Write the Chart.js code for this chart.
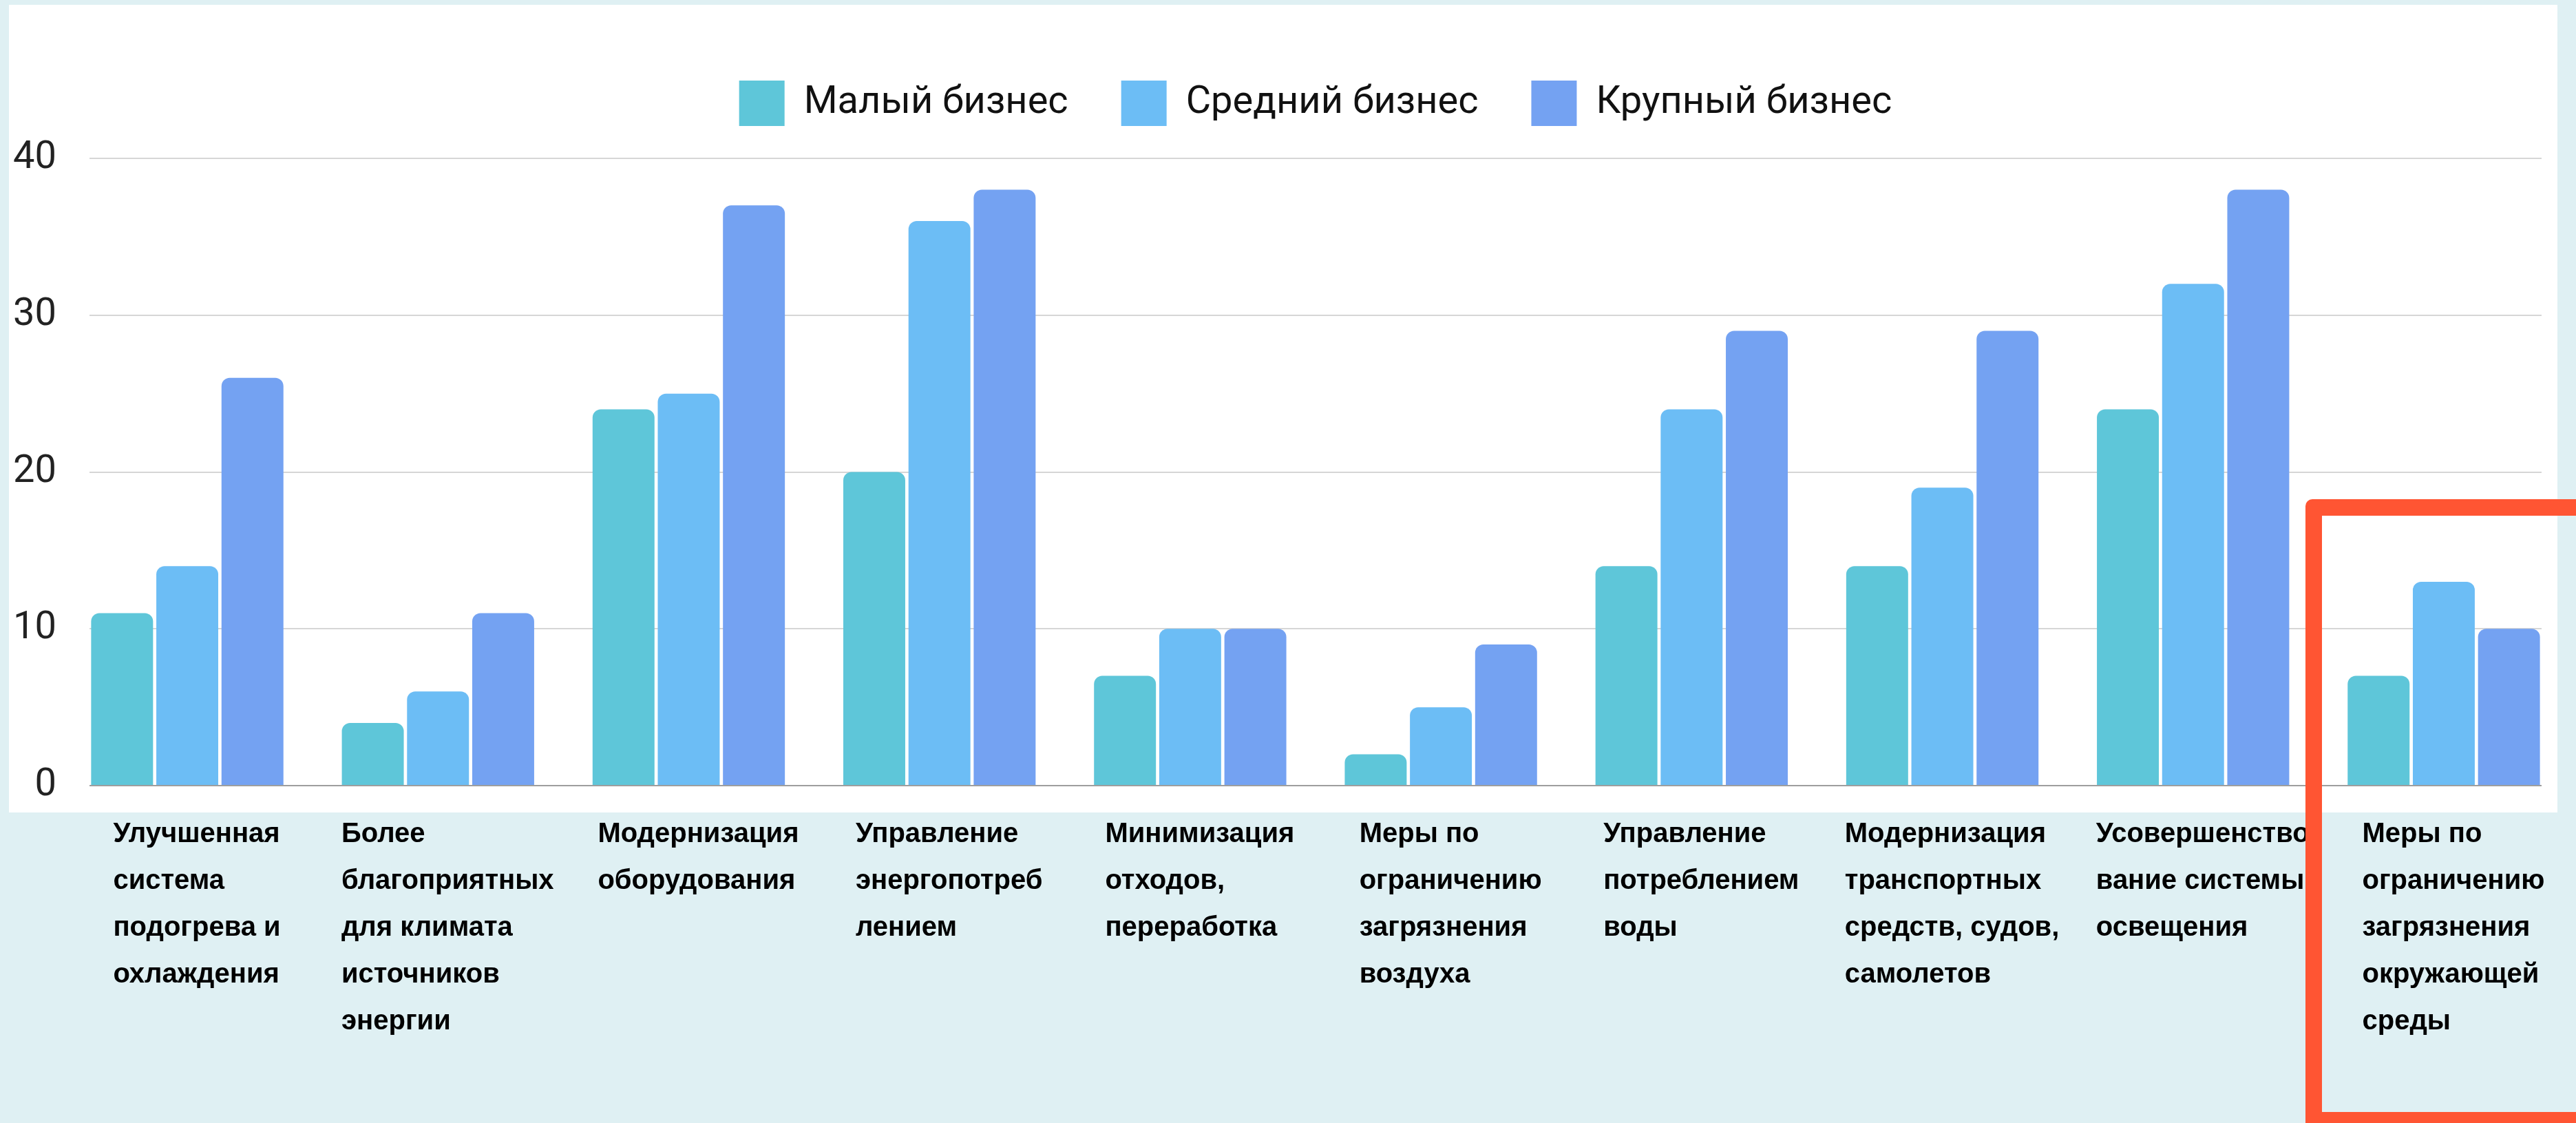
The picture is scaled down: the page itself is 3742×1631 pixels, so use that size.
<!DOCTYPE html>
<html>
<head>
<meta charset="utf-8">
<script src="https://cdn.jsdelivr.net/npm/chart.js@4.4.1/dist/chart.umd.min.js"></script>
<style>
    html, body { margin: 0; padding: 0; }
    body {
        width: 3742px; height: 1631px; overflow: hidden;
        background: #dff0f3; position: relative;
    }
    #panel { position: absolute; left: 13px; top: 7px; width: 3702px; height: 1173px; background: #fff; }
    #myChart { position: absolute; left: 0; top: 0; }
    #mark {
        position: absolute; left: 3349px; top: 725px; width: 500px; height: 866px;
        border: 24px solid #ff5533; border-top-left-radius: 10px;
    }
</style>
</head>
<body>
<div id="panel"></div>
<canvas id="myChart" width="3742" height="1631"></canvas>
<div id="mark"></div>
<script>
// categories, wrapped the same way as in the picture
const categories = [
    ['Улучшенная', 'система', 'подогрева и', 'охлаждения'],
    ['Более', 'благоприятных', 'для климата', 'источников', 'энергии'],
    ['Модернизация', 'оборудования'],
    ['Управление', 'энергопотреб', 'лением'],
    ['Минимизация', 'отходов,', 'переработка'],
    ['Меры по', 'ограничению', 'загрязнения', 'воздуха'],
    ['Управление', 'потреблением', 'воды'],
    ['Модернизация', 'транспортных', 'средств, судов,', 'самолетов'],
    ['Усовершенство', 'вание системы', 'освещения'],
    ['Меры по', 'ограничению', 'загрязнения', 'окружающей', 'среды'],
];
const seriesNames = ['Малый бизнес', 'Средний бизнес', 'Крупный бизнес'];
const small = [11, 4, 24, 20, 7, 2, 14, 14, 24, 7];
const medium = [14, 6, 25, 36, 10, 5, 24, 19, 32, 13];
const large = [26, 11, 37, 38, 10, 9, 29, 29, 38, 10];
const yTicks = [0, 10, 20, 30, 40];

const colors = ['#5ec6d9', '#6cbdf5', '#74a2f2'];
const groupShare = 0.78;

// leave some room between the legend and the top gridline
const legendRoom = {
    id: 'legendRoom',
    beforeInit(chart) {
        const fit = chart.legend.fit;
        chart.legend.fit = function() {
            fit.bind(chart.legend)();
            this.height = 190;
        };
    }
};

// multi-line category labels under the plot, block centred on each group
const categoryLabels = {
    id: 'categoryLabels',
    afterDraw(chart) {
        const ctx = chart.ctx;
        const xs = chart.scales.x;
        const top = chart.chartArea.bottom + 71;
        ctx.save();
        ctx.font = 'bold 40px "Liberation Sans", Arial, sans-serif';
        ctx.fillStyle = '#000';
        ctx.textAlign = 'left';
        ctx.textBaseline = 'middle';
        categories.forEach((lines, i) => {
            const w = Math.max(...lines.map(l => ctx.measureText(l).width));
            const left = xs.getPixelForValue(i) + 14 - w / 2;
            lines.forEach((line, j) => ctx.fillText(line, left, top + j * 68));
        });
        ctx.restore();
    }
};

new Chart('myChart', {
    type: 'bar',
    data: {
        labels: categories.map((c, i) => i),
        datasets: [small, medium, large].map((values, k) => ({
            label: seriesNames[k],
            data: values,
            backgroundColor: colors[k],
            borderWidth: 0,
            borderRadius: 12,
            categoryPercentage: groupShare,
            barPercentage: 0.95,
        })),
    },
    options: {
        responsive: false,
        animation: false,
        devicePixelRatio: 1,
        layout: { padding: { top: 40, left: 15, right: 50, bottom: 490 } },
        plugins: {
            legend: {
                position: 'top',
                fullSize: false,
                labels: {
                    boxWidth: 66,
                    boxHeight: 66,
                    padding: 77,
                    color: '#111',
                    font: { family: 'Roboto', size: 56 },
                },
            },
            tooltip: { enabled: false },
        },
        scales: {
            x: {
                type: 'linear',
                display: false,
                offset: false,
                min: -groupShare / 2,
                max: categories.length - 1 + groupShare / 2,
                afterBuildTicks: (scale) => { scale.ticks = categories.map((c, i) => ({ value: i })); },
            },
            y: {
                min: yTicks[0],
                max: yTicks[yTicks.length - 1],
                afterFit: (scale) => { scale.width = 115; },
                afterBuildTicks: (scale) => { scale.ticks = yTicks.map(v => ({ value: v })); },
                border: { display: false },
                grid: {
                    drawTicks: false,
                    lineWidth: 2,
                    color: (c) => c.tick && c.tick.value === 0 ? '#9e9e9e' : '#d6d6d6',
                },
                ticks: {
                    padding: 48,
                    color: '#222',
                    font: { family: 'Roboto', size: 56 },
                },
            },
        },
    },
    plugins: [legendRoom, categoryLabels],
});
</script>
</body>
</html>
